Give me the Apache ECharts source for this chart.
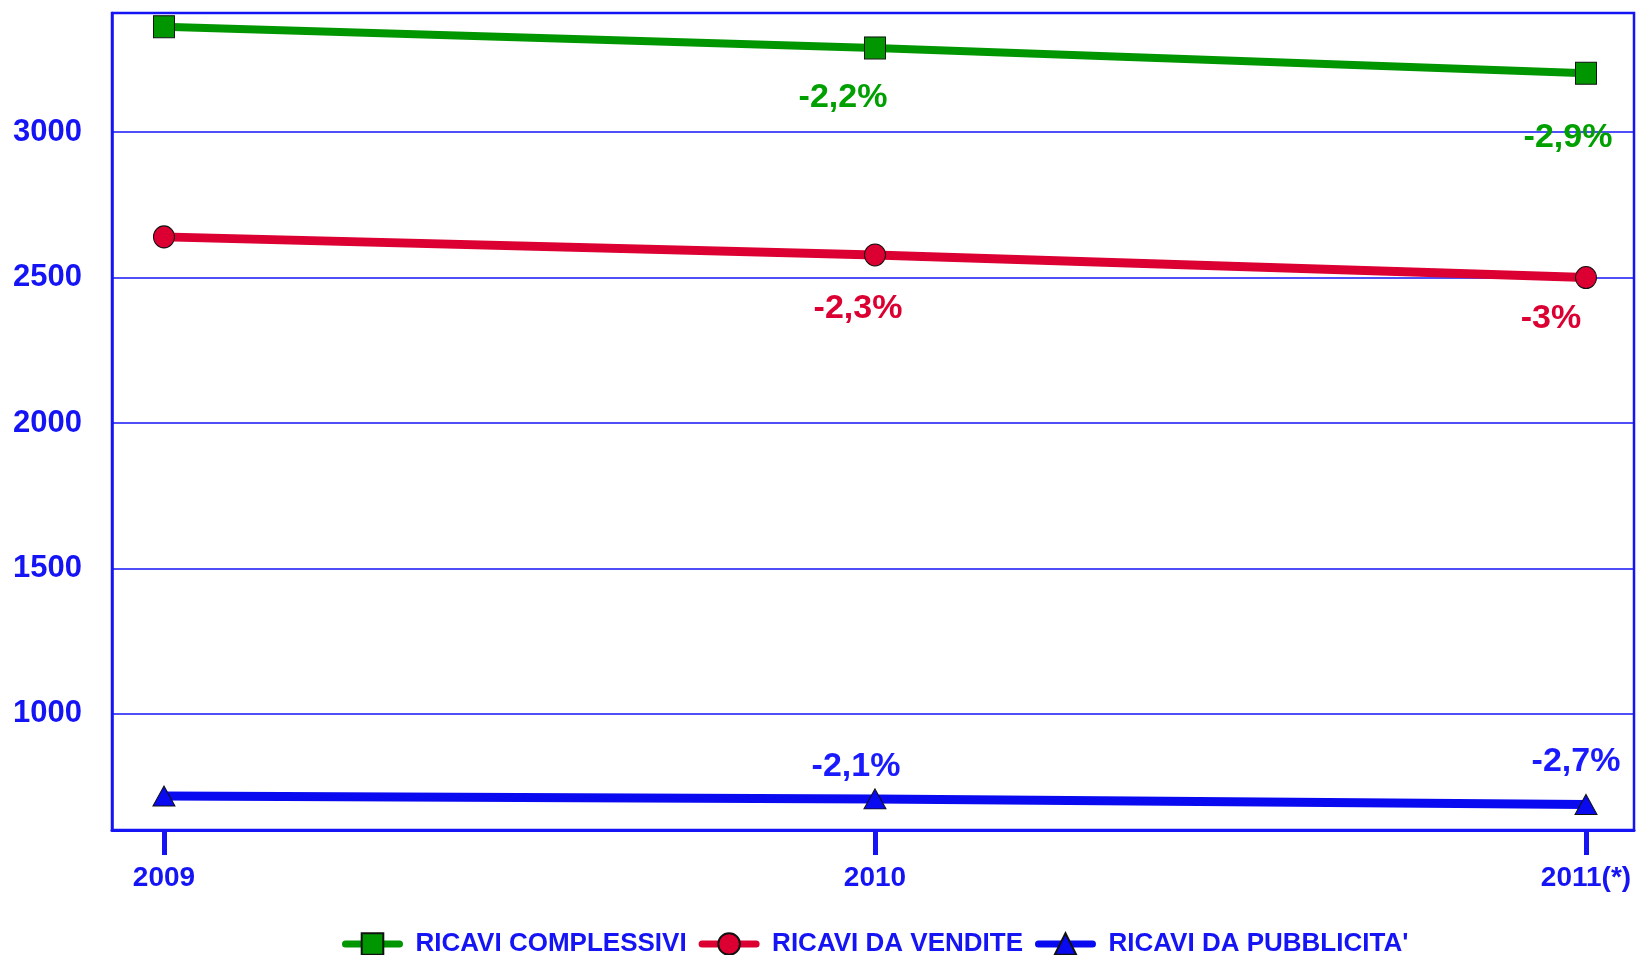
<!DOCTYPE html>
<html><head><meta charset="utf-8">
<script src="https://cdn.jsdelivr.net/npm/echarts@6/dist/echarts.min.js"></script>
<style>html,body{margin:0;padding:0;background:#fff}#c{width:1639px;height:955px}</style>
</head><body><div id="c"></div>
<script>
// ---- data ----
const categories = ['2009', '2010', '2011(*)'];
const seriesNames = ['RICAVI COMPLESSIVI', 'RICAVI DA VENDITE', "RICAVI DA PUBBLICITA'"];
const ricaviComplessivi = [3363, 3290, 3203];
const ricaviVendite = [2640, 2578, 2500];
const ricaviPubblicita = [717, 707, 688];
const labelsComplessivi = ['', '-2,2%', '-2,9%'];
const labelsVendite = ['', '-2,3%', '-3%'];
const labelsPubblicita = ['', '-2,1%', '-2,7%'];
const yTickValues = [1000, 1500, 2000, 2500, 3000];

// ---- styles ----
const BLUE = '#1414f5';
const FONT = 'Liberation Sans, Arial, sans-serif';
const styles = [
  { color: '#009600', text: '#00a000', symbol: 'rect', size: [21, 22], width: 8,
    offsets: [[0, 0], [-32, 50], [-18, 64]] },
  { color: '#dc0032', text: '#dc0032', symbol: 'circle', size: [21, 22], width: 9,
    offsets: [[0, 0], [-17, 54], [-35, 41]] },
  { color: '#0a0af0', text: '#1a1aff', symbol: 'triangle', size: [22, 20], width: 9,
    offsets: [[0, 0], [-19, -32], [-10, -43]] }
];
const values = [ricaviComplessivi, ricaviVendite, ricaviPubblicita];
const pctLabels = [labelsComplessivi, labelsVendite, labelsPubblicita];

const series = values.map((vals, s) => ({
  name: seriesNames[s],
  type: 'line',
  symbol: styles[s].symbol,
  symbolSize: styles[s].size,
  z: 10 - s,
  lineStyle: { color: styles[s].color, width: styles[s].width },
  itemStyle: { color: styles[s].color, borderColor: '#111', borderWidth: 1 },
  emphasis: { disabled: true },
  data: vals.map((v, i) => ({
    value: [i, v],
    label: {
      show: pctLabels[s][i] !== '',
      position: 'inside',
      offset: styles[s].offsets[i],
      formatter: () => pctLabels[s][i],
      color: styles[s].text,
      fontSize: 34,
      fontWeight: 'bold',
      fontFamily: FONT
    }
  }))
}));

const chart = echarts.init(document.getElementById('c'), null, { renderer: 'canvas' });
chart.setOption({
  animation: false,
  backgroundColor: '#fff',
  grid: { left: 112, right: 5, top: 13, bottom: 125, show: true,
          borderColor: BLUE, borderWidth: 2.5, backgroundColor: 'transparent' },
  xAxis: {
    type: 'value', min: -0.0731, max: 2.0675,
    axisLine: { show: true, onZero: false, lineStyle: { color: BLUE, width: 3 } },
    axisTick: { show: true, customValues: [0, 1, 2], length: 25, lineStyle: { color: BLUE, width: 5 } },
    axisLabel: { customValues: [0, 1, 2], formatter: v => categories[Math.round(v)],
                 margin: 34, color: BLUE, fontSize: 28, fontWeight: 'bold', fontFamily: FONT },
    splitLine: { show: false }
  },
  yAxis: {
    type: 'value', min: 600, max: 3410,
    axisLine: { show: true, onZero: false, lineStyle: { color: BLUE, width: 2.5 } },
    axisTick: { show: false, customValues: yTickValues },
    axisLabel: { customValues: yTickValues, formatter: v => String(v), margin: 30, color: BLUE,
                 fontSize: 31, fontWeight: 'bold', fontFamily: FONT },
    splitLine: { show: true, lineStyle: { color: BLUE, width: 1.5 } }
  },
  legend: {
    left: 337, top: 926,
    itemWidth: 54, itemHeight: 27, itemGap: 12,
    lineStyle: { width: 7, cap: 'round' },
    textStyle: { color: BLUE, fontSize: 26, fontWeight: 'bold', padding: [0, 0, 0, 11], fontFamily: FONT },
    data: seriesNames
  },
  series: series
});
</script>
</body></html>
